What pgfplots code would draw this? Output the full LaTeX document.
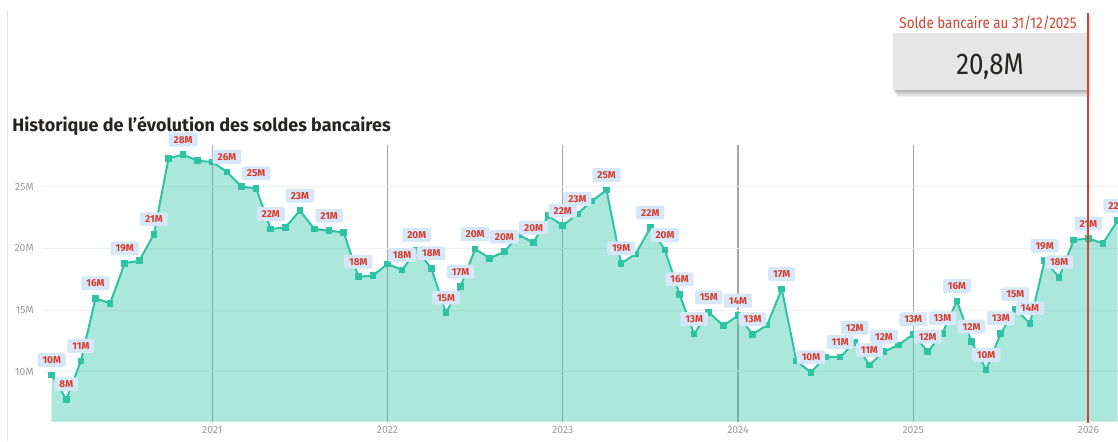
\documentclass[border=0pt]{standalone}
\usepackage{fontspec}
\setmainfont{Fira Sans}
\newfontfamily\condfont[FakeStretch=0.86]{Fira Sans}
\usepackage{pgfplots}
\pgfplotsset{compat=1.18}
\usepackage{pgfplotstable}

\definecolor{teal1}{HTML}{2DC3A3}
\definecolor{lblblue}{HTML}{D6E7F7}
\definecolor{lblred}{HTML}{D93A2B}
\definecolor{pbired}{HTML}{D4412F}
\definecolor{cardgray}{HTML}{E6E6E6}
\definecolor{txtdark}{HTML}{252423}
\definecolor{tickgray}{HTML}{9A9A9A}

\pgfplotstableread{
i v
1 9.74
2 7.77
3 10.87
4 15.95
5 15.55
6 18.79
7 19.00
8 21.14
9 27.30
10 27.60
11 27.10
12 27.00
13 26.20
14 25.00
15 24.87
16 21.57
17 21.70
18 23.06
19 21.57
20 21.43
21 21.30
22 17.70
23 17.79
24 18.74
25 18.25
26 19.87
27 18.39
28 14.79
29 16.90
30 19.95
31 19.20
32 19.73
33 21.09
34 20.46
35 22.65
36 21.84
37 22.79
38 23.84
39 24.73
40 18.79
41 19.55
42 21.68
43 19.87
44 16.28
45 13.06
46 14.82
47 13.74
48 14.55
49 13.04
50 13.79
51 16.71
52 10.87
53 9.96
54 11.20
55 11.20
56 12.36
57 10.55
58 11.63
59 12.17
60 13.04
61 11.63
62 13.12
63 15.74
64 12.44
65 10.15
66 13.12
67 15.06
68 13.93
69 19.00
70 17.66
71 20.68
72 20.80
73 20.41
74 22.24
}\soldes

\pgfplotstableread{
i v lab
1 9.74 10M
2 7.77 8M
3 10.87 11M
4 15.95 16M
6 18.79 19M
8 21.14 21M
10 27.60 28M
13 26.20 26M
15 24.87 25M
16 21.57 22M
18 23.06 23M
20 21.43 21M
22 17.70 18M
25 18.25 18M
26 19.87 20M
27 18.39 18M
28 14.79 15M
29 16.90 17M
30 19.95 20M
32 19.73 20M
34 20.46 20M
36 21.84 22M
37 22.79 23M
39 24.73 25M
40 18.79 19M
42 21.68 22M
43 19.87 20M
44 16.28 16M
45 13.06 13M
46 14.82 15M
48 14.55 14M
49 13.04 13M
51 16.71 17M
53 9.96 10M
55 11.20 11M
56 12.36 12M
57 10.55 11M
58 11.63 12M
60 13.04 13M
61 11.63 12M
62 13.12 13M
63 15.74 16M
64 12.44 12M
65 10.15 10M
66 13.12 13M
67 15.06 15M
68 13.93 14M
69 19.00 19M
70 17.66 18M
72 20.80 21M
74 22.24 22M
}\etiquettes

\begin{document}
\begin{tikzpicture}
\useasboundingbox (0,0) rectangle (559pt,220.5pt);
\clip (0,0) rectangle (559pt,220.5pt);
\draw[black!10, line width=0.5pt] (3.5pt,215.5pt) -- (3.5pt,0pt);
\node[anchor=west, inner sep=0pt, text=txtdark, font=\fontsize{9}{11}\selectfont\bfseries] at (6pt,157.5pt) {Historique de l'évolution des soldes bancaires};

\begin{axis}[
  at={(21.5pt,9.65pt)}, anchor=south west,
  width=537.5pt, height=138.35pt, scale only axis,
  xmin=0.404, xmax=74.03, ymin=5.95, ymax=28.38,
  axis line style={draw=none},
  major tick length=0pt, minor tick length=0pt,
  xtick={12,24,36,48,60,72}, xticklabels={2021,2022,2023,2024,2025,2026},
  ytick={10,15,20,25}, yticklabels={10M,15M,20M,25M},
  xmajorgrids, ymajorgrids,
  x grid style={draw=gray!70, line width=0.6pt},
  y grid style={draw=black!6, line width=0.5pt},
  tick label style={font=\fontsize{5.2}{6}\selectfont, text=tickgray},
  xticklabel style={anchor=center, inner sep=0pt, yshift=-4.3pt},
  yticklabel style={anchor=east, inner sep=0pt, xshift=-4.5pt},
]
\addplot[draw=none, fill=teal1, fill opacity=0.4] table[x=i,y=v]{\soldes} \closedcycle;
\addplot[teal1, line width=1pt, mark=square*, mark size=1.15pt, mark options={solid, fill=teal1}] table[x=i,y=v]{\soldes};
\addplot[draw=none, mark=none, nodes near coords, point meta=explicit symbolic,
  every node near coord/.style={anchor=center, yshift=7.5pt, fill=lblblue, rounded corners=1pt,
    inner xsep=2.5pt, inner ysep=1.7pt, text height=3.5pt, text depth=0pt,
    text=lblred, font=\fontsize{5}{5.5}\selectfont\bfseries}]
  table[x=i,y=v,meta=lab]{\etiquettes};
\end{axis}

% carte
\foreach \k in {1,...,6} {
  \fill[black, opacity=0.06] (446.5pt+0.3*\k pt,175.5pt-0.55*\k pt) rectangle (543.5pt+0.3*\k pt,214pt-0.2*\k pt);
}
\fill[white] (446.5pt,175.5pt) rectangle (543.5pt,214pt);
\fill[cardgray] (446.5pt,175.5pt) rectangle (543.5pt,204pt);
\path[draw=pbired, line width=0.9pt] (543.85pt,214pt) -- (543.85pt,9.15pt);
\node[inner sep=0pt, text=pbired, font=\condfont\fontsize{7.8}{9}\selectfont] at (494pt,209pt) {Solde bancaire au 31/12/2025};
\node[anchor=base, inner sep=0pt, text=txtdark, font=\condfont\fontsize{15}{17}\selectfont] at (495pt,183.5pt) {20,8M};
\end{tikzpicture}
\end{document}
